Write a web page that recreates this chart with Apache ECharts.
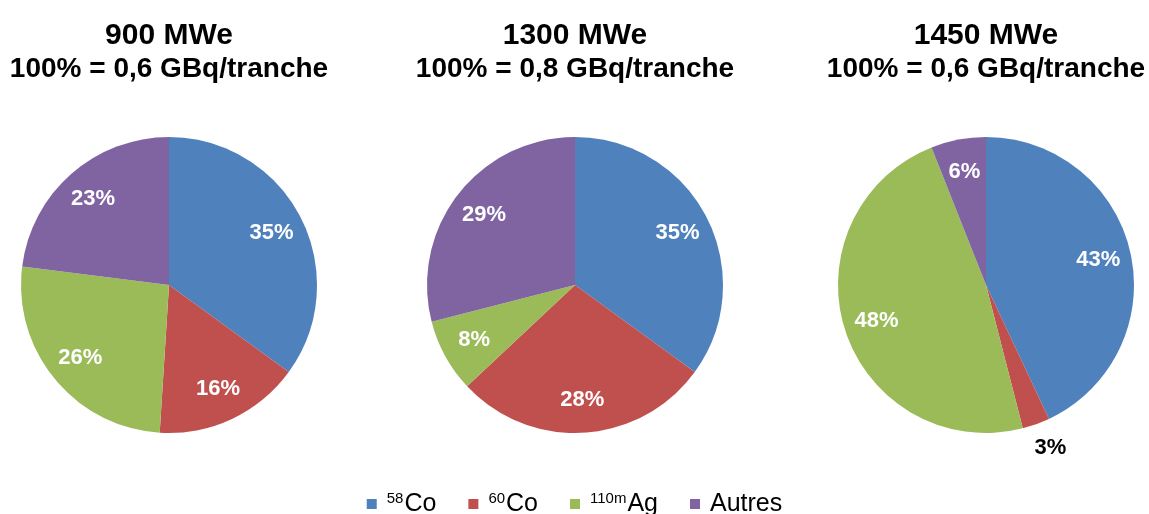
<!DOCTYPE html>
<html>
<head>
<meta charset="utf-8">
<script src="https://cdn.jsdelivr.net/npm/echarts@6/dist/echarts.min.js"></script>
<style>
  html, body { margin: 0; padding: 0; background: #fff; }
  #chart { width: 1149px; height: 514px; }
</style>
</head>
<body>
<div id="chart"></div>
<script>
// données
var categories = ["58Co", "60Co", "110mAg", "Autres"];
var titles = ["900 MWe", "1300 MWe", "1450 MWe"];
var subtitles = ["100% = 0,6 GBq/tranche", "100% = 0,8 GBq/tranche", "100% = 0,6 GBq/tranche"];
var values900 = [35, 16, 26, 23];
var values1300 = [35, 28, 8, 29];
var values1450 = [43, 3, 48, 6];

var allValues = [values900, values1300, values1450];
var centersX = [169, 575, 986];
var sans = "'Liberation Sans', Arial, sans-serif";

var myChart = echarts.init(document.getElementById("chart"));

var title = [];
var series = [];

allValues.forEach(function (vals, k) {
  title.push({
    text: titles[k],
    subtext: subtitles[k],
    left: centersX[k],
    top: 21,
    textAlign: "center",
    padding: 0,
    itemGap: 4,
    textStyle: { fontFamily: sans, fontWeight: "bold", fontSize: 30, color: "#000" },
    subtextStyle: { fontFamily: sans, fontWeight: "bold", fontSize: 28, color: "#000" },
  });

  // camembert
  series.push({
    type: "pie",
    center: [centersX[k], 285],
    radius: [0, 148],
    startAngle: 90,
    silent: true,
    itemStyle: { borderWidth: 0 },
    label: { show: false },
    labelLine: { show: false },
    data: categories.map(function (c, i) {
      var d = { name: c, value: vals[i] };
      // petites parts : étiquette à l'extérieur
      if (vals[i] < 5) {
        d.label = {
          show: true,
          position: "outside",
          formatter: "{c}%",
          color: "#000",
          fontFamily: sans,
          fontWeight: "bold",
          fontSize: 22,
          distanceToLabelLine: -10,
        };
        d.labelLine = { show: false, length: 25, length2: 0 };
      }
      return d;
    }),
  });

  // étiquettes intérieures
  series.push({
    type: "pie",
    center: [centersX[k], 285],
    radius: [76, 148],
    startAngle: 90,
    silent: true,
    itemStyle: { color: "transparent", borderWidth: 0 },
    label: {
      show: true,
      position: "inside",
      formatter: "{c}%",
      color: "#fff",
      fontFamily: sans,
      fontWeight: "bold",
      fontSize: 22,
    },
    labelLine: { show: false },
    data: categories.map(function (c, i) {
      var d = { name: c, value: vals[i] };
      if (vals[i] < 5) d.label = { show: false };
      return d;
    }),
  });
});

var option = {
  animation: false,
  color: ["#4F81BD", "#C0504D", "#9BBB59", "#8064A2"],
  title: title,
  legend: {
    data: categories,
    left: "center",
    top: 486,
    icon: "rect",
    itemWidth: 10,
    itemHeight: 10,
    itemGap: 32,
    selectedMode: false,
    formatter: function (name) {
      var m = name.match(/^(\d+m?)(.*)$/);
      if (m) return "{sup|" + m[1] + "}{main|" + m[2] + "}";
      return "{main|" + name + "}";
    },
    textStyle: {
      padding: [0, 0, 0, 5],
      rich: {
        sup: { fontFamily: sans, fontSize: 15, color: "#000", verticalAlign: "top", lineHeight: 26, padding: [0, 1, 7, 0] },
        main: { fontFamily: sans, fontSize: 25, color: "#000", lineHeight: 26 },
      },
    },
  },
  series: series,
};

myChart.setOption(option);
</script>
</body>
</html>
